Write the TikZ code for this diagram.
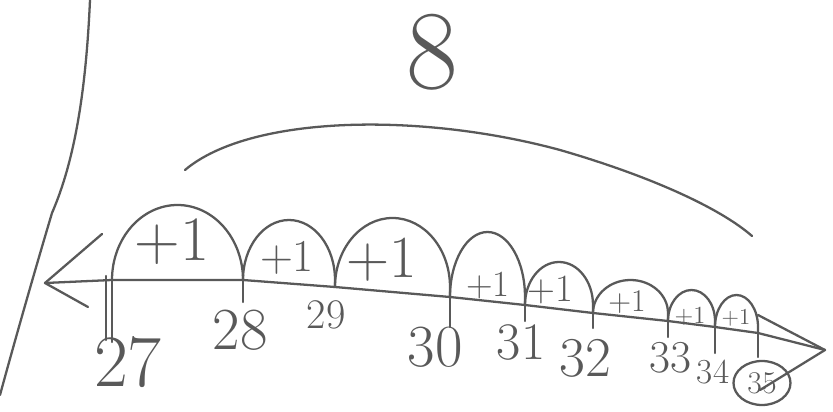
\documentclass[tikz,border=0pt]{standalone}
\usepackage{amsmath}
\usepackage{tikz}
\usepackage{xcolor}
\usetikzlibrary{shapes.geometric}
\definecolor{pencil}{HTML}{595959}

\begin{document}
\begin{tikzpicture}[x=0.02cm,y=-0.02cm,
  stroke/.style={draw=pencil,line width=1.3pt,line cap=round,line join=round},
  num/.style={text=pencil,inner sep=0pt,font=\fontsize{#1}{#1}\selectfont},
  hop/.style={text=pencil,inner sep=0pt,font=\fontsize{#1}{#1}\selectfont}]
\useasboundingbox (0,0) rectangle (833,412);
% margin line
\draw[stroke] (90,0) .. controls (86,90) and (75,160) .. (52,213) .. controls (35,270) and (15,340) .. (0,395);
% points on the number line
\coordinate (lft) at (45,283);
\coordinate (t27) at (112,280);
\coordinate (t28) at (243,280);
\coordinate (t29) at (335,287);
\coordinate (t30) at (450,297);
\coordinate (t31) at (525,305);
\coordinate (t32) at (593,313);
\coordinate (t33) at (668,321);
\coordinate (t34) at (715,327);
\coordinate (t35) at (758,333);
\coordinate (tip) at (825,350);
\draw[stroke] (lft)--(t27)--(t28)--(t29)--(t30)--(t31)--(t32)--(t33)--(t34)--(t35)--(tip);
% arrow heads
\coordinate (la) at (102,234);
\coordinate (lb) at (88,307);
\draw[stroke] (la)--(lft)--(lb);
\coordinate (ra) at (758,315);
\coordinate (rb) at (760,390);
\draw[stroke] (ra)--(tip)--(rb);
% ticks
\draw[stroke] (t27)--++(0,62);
\draw[stroke] (106,276)--(106,340);
\draw[stroke] (t28)--++(0,22);
\draw[stroke] (t30)--++(0,30);
\draw[stroke] (t31)--++(0,16);
\draw[stroke] (t32)--++(0,15);
\draw[stroke] (t33)--++(0,16);
\draw[stroke] (t34)--++(0,26);
\draw[stroke] (t35)--++(0,24);
% hops
\draw[stroke] (t27) arc[start angle=180,end angle=0,x radius=65.5,y radius=-75] -- (t28);
\draw[stroke] (t28) arc[start angle=180,end angle=0,x radius=46,y radius=-60] -- (t29);
\draw[stroke] (t29) arc[start angle=180,end angle=0,x radius=57.5,y radius=-69] -- (t30);
\draw[stroke] (t30) arc[start angle=180,end angle=0,x radius=37.5,y radius=-65] -- (t31);
\draw[stroke] (t31) arc[start angle=180,end angle=0,x radius=34,y radius=-43] -- (t32);
\draw[stroke] (t32) arc[start angle=180,end angle=0,x radius=37.5,y radius=-33] -- (t33);
\draw[stroke] (t33) arc[start angle=180,end angle=0,x radius=23.5,y radius=-31] -- (t34);
\draw[stroke] (t34) arc[start angle=180,end angle=0,x radius=21.5,y radius=-32] -- (t35);
\node[hop=36] (p1) at (172,242) {+1};
\node[hop=26] (p2) at (287,258) {+1};
\node[hop=34] (p3) at (382,260) {+1};
\node[hop=21] (p4) at (488,285) {+1};
\node[hop=22] (p5) at (550,290) {+1};
\node[hop=18] (p6) at (627,302) {+1};
\node[hop=14] (p7) at (690,316) {+1};
\node[hop=13] (p8) at (736,318) {+1};
% labels
\node[num=42] (n27) at (128,362) {27};
\node[num=34] (n28) at (240,330) {28};
\node[num=24] (n29) at (326,315) {29};
\node[num=34] (n30) at (435,347) {30};
\node[num=30] (n31) at (521,343) {31};
\node[num=32] (n32) at (585,358) {32};
\node[num=26] (n33) at (670,358) {33};
\node[num=20] (n34) at (713,372) {34};
\node[num=18,draw=pencil,line width=1.3pt,ellipse,minimum width=1.14cm,minimum height=0.88cm] (n35) at (762,383) {35};
% total
\draw[stroke] (185,170) .. controls (250,115) and (420,112) .. (560,150) .. controls (650,176) and (720,208) .. (752,236);
\node[num=64] (tot) at (432,52) {8};
\end{tikzpicture}
\end{document}
